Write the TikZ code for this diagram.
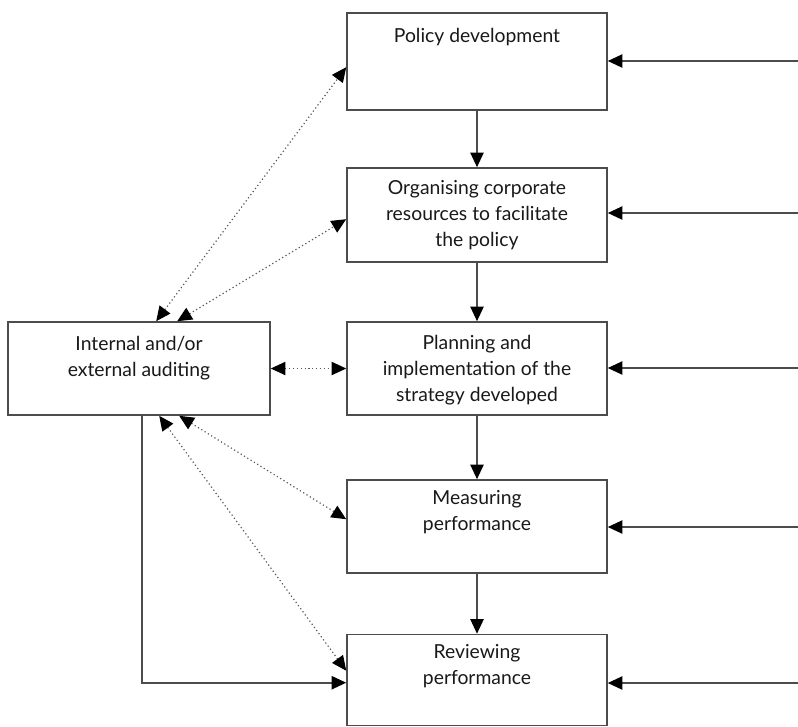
\documentclass[tikz,border=0pt]{standalone}
\usepackage{fontspec}
\setmainfont{Lato}
\usetikzlibrary{arrows.meta,calc}
\begin{document}
\begin{tikzpicture}[x=0.75pt,y=-0.75pt,
  tip/.tip={Triangle[length=11pt,width=10pt,color=black]},
  box/.style={draw=black!70,line width=1.2pt,fill=white,minimum width=260*0.75pt,inner sep=0pt},
  lbl/.style={anchor=north,align=center,font=\fontsize{14.5}{19.5}\selectfont,text=black!90,inner sep=0pt},
  flow/.style={draw=black!70,line width=1.2pt,-tip},
  audit/.style={draw=black!65,line width=0.9pt,dotted,tip-tip}]
\useasboundingbox (0,0) rectangle (798,726);

% main process boxes
\node[box,minimum height=97*0.75pt] (pol) at (477,61.5) {};
\node[box,minimum height=94*0.75pt] (org) at (477,215) {};
\node[box,minimum height=93*0.75pt] (pla) at (477,368.5) {};
\node[box,minimum height=93*0.75pt] (mea) at (477,526.5) {};
\node[box,minimum height=91*0.75pt] (rev) at (477,680) {};
% auditing box
\node[box,minimum width=262*0.75pt,minimum height=93*0.75pt] (aud) at (139,368.5) {};

% box texts
\node[lbl] (tpol) at (477,28) {Policy development};
\node[lbl] (torg) at (477,180) {Organising corporate\\resources to facilitate\\the policy};
\node[lbl] (tpla) at (477,335) {Planning and\\implementation of the\\strategy developed};
\node[lbl] (tmea) at (477,490) {Measuring\\performance};
\node[lbl] (trev) at (477,644) {Reviewing\\performance};
\node[lbl] (taud) at (139,336) {Internal and/or\\external auditing};

% downward flow
\draw[flow] (pol) -- (org);
\draw[flow] (org) -- (pla);
\draw[flow] (pla) -- (mea);
\draw[flow] (mea) -- (rev);

% inputs from the right
\coordinate (in1) at (798,61);
\coordinate (in2) at (798,213);
\coordinate (in3) at (798,368);
\coordinate (in4) at (798,527);
\coordinate (in5) at (798,683);
\draw[flow] (in1) -- (in1 -| pol.east);
\draw[flow] (in2) -- (in2 -| org.east);
\draw[flow] (in3) -- (in3 -| pla.east);
\draw[flow] (in4) -- (in4 -| mea.east);
\draw[flow] (in5) -- (in5 -| rev.east);

% auditing links
\draw[audit] ($(aud.north west)+(149,0)$) -- ($(pol.north west)+(0,55)$);
\draw[audit] ($(aud.north west)+(170,0)$) -- ($(org.north west)+(0,52)$);
\draw[audit] (aud.east) -- (pla.west);
\draw[audit] ($(aud.south west)+(172,0)$) -- ($(mea.north west)+(0,40)$);
\draw[audit] ($(aud.south west)+(152,0)$) -- ($(rev.north west)+(0,37)$);
\draw[flow] ($(aud.south west)+(135,0)$) |- ($(rev.north west)+(0,49)$);
\end{tikzpicture}
\end{document}
